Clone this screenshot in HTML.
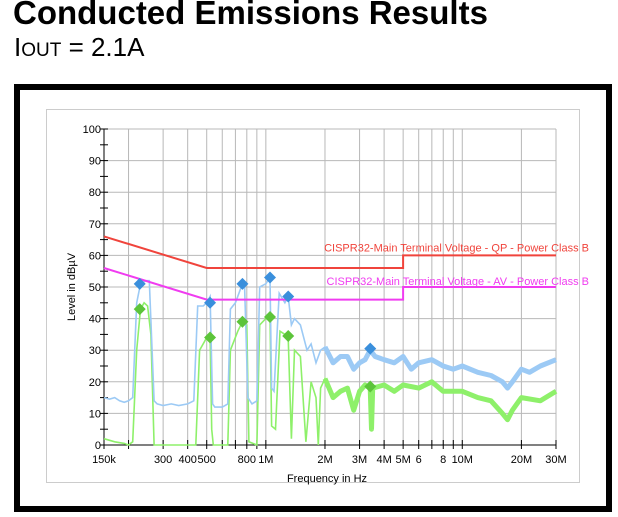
<!DOCTYPE html>
<html><head><meta charset="utf-8"><style>
body{margin:0;width:618px;height:517px;background:#fff;overflow:hidden;font-family:"Liberation Sans",sans-serif;position:relative}
#t1{position:absolute;left:13px;top:-6px;font-size:33px;font-weight:bold;color:#000;white-space:nowrap}
#t2{position:absolute;left:14px;top:32px;font-size:26px;color:#000;white-space:nowrap}
#frame{position:absolute;left:14px;top:84px;width:586px;height:416px;border:6px solid #000}
#panel{position:absolute;left:46px;top:109px;width:532px;height:372px;border:1px solid #ccc;background:#fff}
svg{position:absolute;left:0;top:0}
</style></head><body>
<div id="t1">Conducted Emissions Results</div>
<div id="t2">I<span style="font-size:19px">OUT</span> = 2.1A</div>
<div id="frame"></div>
<div id="panel"></div>
<svg id="chart" width="618" height="517"></svg>
<script>
const yTicks=[0,10,20,30,40,50,60,70,80,90,100];
const gridFreqs=[0.15,0.2,0.3,0.4,0.5,0.6,0.7,0.8,0.9,1,2,3,4,5,6,7,8,9,10,20,30];
const xLabelFreqs=[0.15,0.3,0.4,0.5,0.8,1,2,3,4,5,6,8,10,20,30];
const xLabels=["150k","300","400","500","800","1M","2M","3M","4M","5M","6","8","10M","20M","30M"];
const qpF=[0.15,0.5,5,5,30];const qpV=[66,56,56,60,60];
const avF=[0.15,0.5,5,5,30];const avV=[56,46,46,50,50];
const blueF=[0.15,0.16,0.17,0.18,0.19,0.2,0.21,0.22,0.23,0.245,0.255,0.27,0.28,0.3,0.33,0.36,0.4,0.43,0.45,0.48,0.5,0.52,0.536,0.55,0.6,0.64,0.66,0.7,0.76,0.78,0.81,0.85,0.9,0.93,1.0,1.05,1.07,1.1,1.17,1.25,1.3,1.35,1.4,1.5,1.62,1.7,1.8,1.9,2.0,2.2,2.4,2.6,2.8,3.0,3.2,3.4,3.6,4.0,4.5,5.0,5.5,6,7,8,9,10,12,14,16,17,18,20,22,25,30];
const blueV=[15,14.5,15,14,13.5,14,15,45,51,52,52,14,13,12.5,13,12.5,13,14,44,44,45,47,13,12,12,13,43,45,51,50,15,13,14,50,51,53,18,17,48,45,47,38,40,38,30,32,26,30,31,26,28,28,24,26,27,30,28,27,26,28,24,26,27,25,24,25,23,22,20,18,20,24,23,25,27];
const greenF=[0.15,0.17,0.19,0.2,0.21,0.22,0.23,0.24,0.25,0.26,0.27,0.35,0.44,0.46,0.5,0.52,0.53,0.54,0.64,0.66,0.72,0.76,0.8,0.82,0.9,0.93,1.0,1.05,1.07,1.12,1.18,1.25,1.3,1.35,1.4,1.5,1.6,1.7,1.8,1.85,1.9,2.0,2.2,2.4,2.6,2.8,3.0,3.2,3.4,3.45,3.5,4,4.5,5,6,7,8,10,12,14,16,17,18,20,25,30];
const greenV=[2,1,0.5,0,1,30,43,45,44,35,0,0,0,30,34,35,5,0,0,30,36,39,38,1,0,38,40,41,6,5,36,35,34,2,30,28,1,20,15,0,18,21,15,17,18,11,17,19,18,5,18,19,17,19,18,20,17,17,15,14,10,8,11,15,14,17];
const mkF=[0.228,0.52,0.76,1.05,1.3,3.4];
const mkBlue=[51,45,51,53,47,30.5];
const mkGreen=[43,34,39,40.5,34.5,18.5];

const X0=104,X1=556,Y0=445,Y1=129;
const lmin=Math.log10(0.15),lmax=Math.log10(30);
function xs(f){return X0+(Math.log10(f)-lmin)/(lmax-lmin)*(X1-X0);}
function ys(v){return Y0-v/100*(Y0-Y1);}
const svg=document.getElementById('chart');const NS='http://www.w3.org/2000/svg';
function mk(tag,attrs,name){const e=document.createElementNS(NS,tag);for(const k in attrs)e.setAttribute(k,attrs[k]);


svg.appendChild(e);return e;}
yTicks.forEach(v=>{mk('line',{x1:X0,x2:X1,y1:ys(v),y2:ys(v),stroke:'#b8b8b8','stroke-width':1},'h-grid');
 const t=mk('text',{x:X0-3,y:ys(v)+4,'text-anchor':'end','font-size':11,fill:'#000'},'y-tick-label');t.textContent=v;
 mk('line',{x1:X0-4,x2:X0+4,y1:ys(v),y2:ys(v),stroke:'#000'},'y-tick');
 if(v<100)mk('line',{x1:X0-4,x2:X0+4,y1:ys(v+5),y2:ys(v+5),stroke:'#000'},'y-minor-tick');});
gridFreqs.forEach(f=>{mk('line',{x1:xs(f),x2:xs(f),y1:Y1,y2:Y0,stroke:'#b8b8b8'},'v-grid');
 mk('line',{x1:xs(f),x2:xs(f),y1:Y0-5,y2:Y0+4,stroke:'#000'},'x-tick');});
xLabelFreqs.forEach((f,i)=>{const t=mk('text',{x:xs(f),y:Y0+18,'text-anchor':'middle','font-size':11,fill:'#000'},'x-tick-label');t.textContent=xLabels[i];});
mk('line',{x1:X0,x2:X0,y1:Y1,y2:Y0,stroke:'#000'},'y-axis');
mk('line',{x1:X0,x2:X1,y1:Y0,y2:Y0,stroke:'#000'},'x-axis');
function pts(F,V,lo){const o=[];F.forEach((f,i)=>{if(lo===undefined||f>=lo)o.push(xs(f).toFixed(1)+','+ys(V[i]).toFixed(1));});return o.join(' ');}
mk('polyline',{points:pts(greenF,greenV),fill:'none',stroke:'#8ef06a','stroke-width':1.6},'av-trace');
mk('polyline',{points:pts(greenF,greenV,2),fill:'none',stroke:'#8ef06a','stroke-width':5,'stroke-linejoin':'round'},'av-trace-noise-band');
mk('polyline',{points:pts(blueF,blueV),fill:'none',stroke:'#9ccaf5','stroke-width':1.6},'qp-trace');
mk('polyline',{points:pts(blueF,blueV,2),fill:'none',stroke:'#9ccaf5','stroke-width':5,'stroke-linejoin':'round'},'qp-trace-noise-band');
mk('polyline',{points:pts(qpF,qpV),fill:'none',stroke:'#f0443c','stroke-width':2},'qp-limit');
mk('polyline',{points:pts(avF,avV),fill:'none',stroke:'#f03cf0','stroke-width':2},'av-limit');
let t=mk('text',{x:589,y:ys(60)-4,'text-anchor':'end','font-size':11,fill:'#f0443c'},'qp-limit-label');t.textContent='CISPR32-Main Terminal Voltage - QP - Power Class B';
t=mk('text',{x:589,y:ys(50)-2,'text-anchor':'end','font-size':11,fill:'#f03cf0'},'av-limit-label');t.textContent='CISPR32-Main Terminal Voltage - AV - Power Class B';
function dia(f,v,c,n){const x=xs(f),y=ys(v);mk('polygon',{points:`${x},${y-6} ${x+6},${y} ${x},${y+6} ${x-6},${y}`,fill:c},n);}
mkF.forEach((f,i)=>{dia(f,mkBlue[i],'#3a8fdc','qp-marker');dia(f,mkGreen[i],'#5cc43a','av-marker');});
t=mk('text',{x:327,y:482,'text-anchor':'middle','font-size':11,fill:'#000'},'x-axis-title');t.textContent='Frequency in Hz';
t=mk('text',{x:0,y:0,'text-anchor':'middle','font-size':11,fill:'#000',transform:'translate(75,287) rotate(-90)'},'y-axis-title');t.textContent='Level in dBµV';
</script>
</body></html>
